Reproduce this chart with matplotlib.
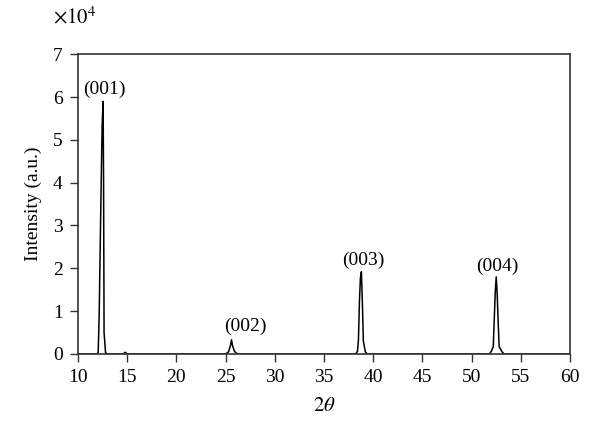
import matplotlib
matplotlib.use("Agg")
import matplotlib.pyplot as plt
import numpy as np

plt.rcParams['font.family'] = ['Liberation Serif', 'DejaVu Serif']
plt.rcParams['mathtext.fontset'] = 'stix'

# XRD pattern (2theta in degrees, intensity in a.u.)
two_theta = [10.0, 11.9, 12.05, 12.15, 12.25, 12.35, 12.45, 12.55, 12.6, 12.65, 12.8, 12.95,
             14.6, 14.8, 15.0,
             25.0, 25.3, 25.5, 25.6, 25.7, 25.9, 26.2,
             38.2, 38.4, 38.5, 38.6, 38.7, 38.8, 38.9, 39.0, 39.2, 39.4,
             51.8, 52.0, 52.2, 52.3, 52.4, 52.5, 52.6, 52.7, 52.8, 53.1, 53.3, 60.0]
intensity = [0, 0, 300, 8700, 24000, 39000, 53000, 59000, 40000, 5000, 300, 0,
             0, 400, 0,
             0, 500, 2000, 3300, 2000, 600, 0,
             0, 600, 3300, 12200, 17700, 19200, 12000, 3000, 500, 0,
             0, 600, 1700, 7900, 14200, 18000, 14000, 7500, 1700, 500, 0, 0]

peak_labels = ["(001)", "(002)", "(003)", "(004)"]
peak_pos = [12.7, 27.0, 39.0, 52.6]
peak_top = [5.97, 0.45, 1.98, 1.85]

fig = plt.figure(figsize=(6, 4.37), dpi=100)
ax = fig.add_axes([0.13, 0.19, 0.82, 0.686])

ax.plot(two_theta, np.array(intensity) / 1e4, color="black", linewidth=1.1)

for lab, xp, yp in zip(peak_labels, peak_pos, peak_top):
	ax.text(xp, yp, lab, ha="center", va="bottom", fontsize=14)

ax.set_xlim(10, 60)
ax.set_ylim(0, 7)
ax.set_xticks(np.arange(10, 61, 5))
ax.set_yticks(np.arange(0, 8, 1))
ax.tick_params(direction="out", length=6, width=1, labelsize=14, pad=5,
	top=False, right=False, color="#333333")
for sp in ax.spines.values():
	sp.set_color("#333333")
	sp.set_linewidth(1.2)

ax.set_xlabel(r"$2\theta$", fontsize=15, labelpad=8)
ax.set_ylabel("Intensity (a.u.)", fontsize=14, labelpad=8)
ax.text(-0.05, 1.085, r"$\times 10^4$", transform=ax.transAxes, ha="left", va="bottom", fontsize=15)

plt.savefig("out.png", dpi=100)
